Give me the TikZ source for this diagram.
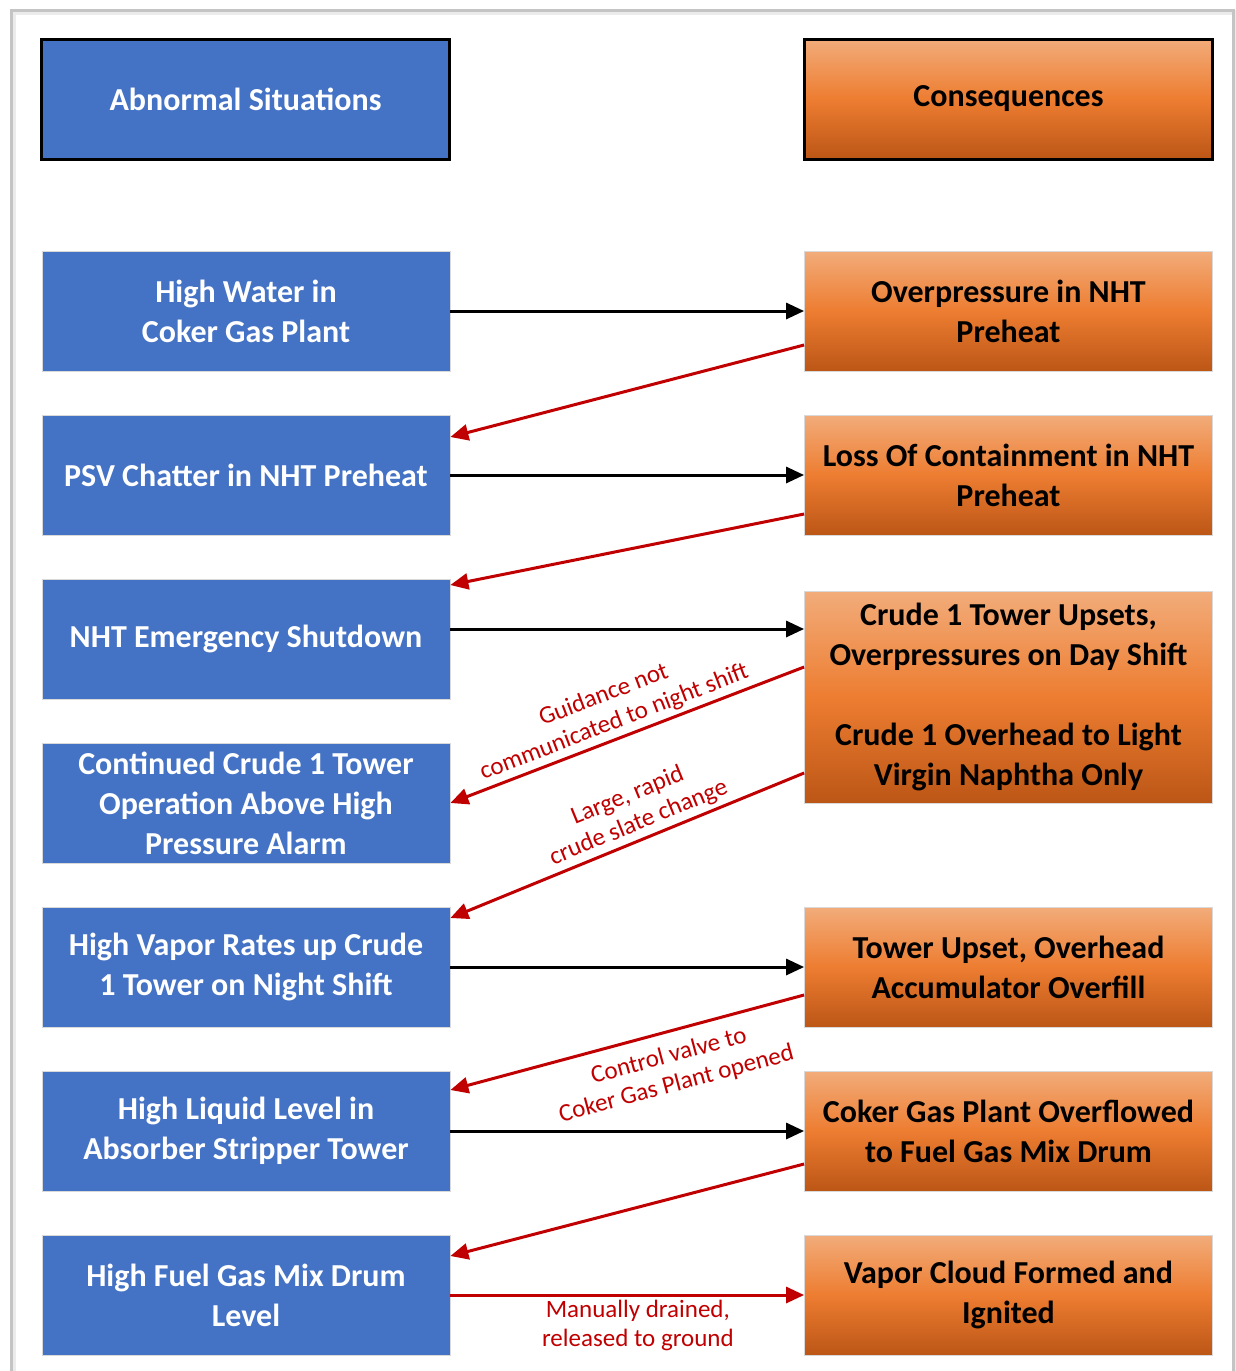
\documentclass[tikz,border=0pt]{standalone}
\usepackage{fontspec}
\setmainfont{Carlito}
\usepackage{xcolor}
\usepackage{tikz}
\usetikzlibrary{arrows.meta}
\definecolor{sitblue}{RGB}{68,114,196}
\definecolor{conslight}{RGB}{242,172,122}
\definecolor{consmid}{RGB}{237,125,49}
\definecolor{consdark}{RGB}{188,86,22}
\definecolor{causered}{RGB}{192,0,0}
\definecolor{framegray}{RGB}{196,196,196}

\begin{document}
\begin{tikzpicture}[x=0.5pt,y=-0.5pt]
	\tikzstyle{box} = [align=center,minimum width=204pt,minimum height=60pt,inner sep=2pt,font=\bfseries\fontsize{16}{20}\selectfont];
	\tikzstyle{sit} = [box,fill=sitblue,text=white,draw=black!15,thin];
	\tikzstyle{con} = [box,top color=conslight,bottom color=consdark,middle color=consmid,text=black,draw=black!15,thin];
	\tikzstyle{head} = [draw=black,line width=1.5pt];
	\tikzstyle{flow} = [draw=black,line width=1.5pt,-{Triangle[length=9pt,width=8pt]}];
	\tikzstyle{cause} = [draw=causered,line width=1.5pt,-{Triangle[length=9pt,width=8pt]}];
	\tikzstyle{why} = [text=causered,align=center,font=\fontsize{12.5}{14.5}\selectfont,inner sep=2pt];
	\useasboundingbox (0,0) rectangle (1236,1371);
	% frame
	\draw [draw=black!8,line width=2.5pt] (13,1371) -- (13,12) -- (1235,12) -- (1235,1371);
	\draw [draw=framegray,line width=1.5pt] (11,1371) -- (11,10) -- (1233,10) -- (1233,1371);
	% headers
	\node (sh) at (245.5,99) [sit,head] {Abnormal Situations};
	\node (ch) at (1008.5,99) [con,head] {Consequences};
	% abnormal situations
	\node (s1) at (246,311) [sit] {High Water in\\Coker Gas Plant};
	\node (s2) at (246,475) [sit] {PSV Chatter in NHT Preheat};
	\node (s3) at (246,639) [sit] {NHT Emergency Shutdown};
	\node (s4) at (246,803) [sit] {Continued Crude 1 Tower\\Operation Above High\\Pressure Alarm};
	\node (s5) at (246,967) [sit] {High Vapor Rates up Crude\\1 Tower on Night Shift};
	\node (s6) at (246,1131) [sit] {High Liquid Level in\\Absorber Stripper Tower};
	\node (s7) at (246,1295) [sit] {High Fuel Gas Mix Drum\\Level};
	% consequences
	\node (c1) at (1008.5,311) [con] {Overpressure in NHT\\Preheat};
	\node (c2) at (1008.5,475) [con] {Loss Of Containment in NHT\\Preheat};
	\node (c3) at (1008.5,697) [con,minimum height=106pt] {Crude 1 Tower Upsets,\\Overpressures on Day Shift\\[20pt]Crude 1 Overhead to Light\\Virgin Naphtha Only};
	\node (c4) at (1008.5,967) [con] {Tower Upset, Overhead\\Accumulator Overfill};
	\node (c5) at (1008.5,1131) [con] {Coker Gas Plant Overflowed\\to Fuel Gas Mix Drum};
	\node (c6) at (1008.5,1295) [con] {Vapor Cloud Formed and\\Ignited};
	% situation leads to consequence
	\path [flow] (s1.east) -- (c1.west);
	\path [flow] (s2.east) -- (c2.west);
	\path [flow] ([yshift=5pt]s3.east) -- ([yshift=5pt]s3.east -| c3.west);
	\path [flow] (s5.east) -- (c4.west);
	\path [flow] (s6.east) -- (c5.west);
	% consequence leads to next situation
	\path [cause] ([yshift=-17pt]c1.west) -- ([yshift=19pt]s2.east);
	\path [cause] ([yshift=-19.5pt]c2.west) -- ([yshift=27pt]s3.east);
	\path [cause] ([yshift=15pt]c3.west) -- (s4.east) node [why,pos=0.52,sloped,above] {Guidance not\\communicated to night shift};
	\path [cause] ([yshift=-38pt]c3.west) -- ([yshift=24.5pt]s5.east) node [why,pos=0.45,sloped,above] {Large, rapid\\crude slate change};
	\path [cause] ([yshift=-14pt]c4.west) -- ([yshift=20.5pt]s6.east) node [why,pos=0.4,sloped,below=4pt] {Control valve to\\Coker Gas Plant opened};
	\path [cause] ([yshift=-16.5pt]c5.west) -- ([yshift=19.5pt]s7.east);
	\path [cause] (s7.east) -- (c6.west) node [why,pos=0.53,below] {Manually drained,\\released to ground};
\end{tikzpicture}
\end{document}
